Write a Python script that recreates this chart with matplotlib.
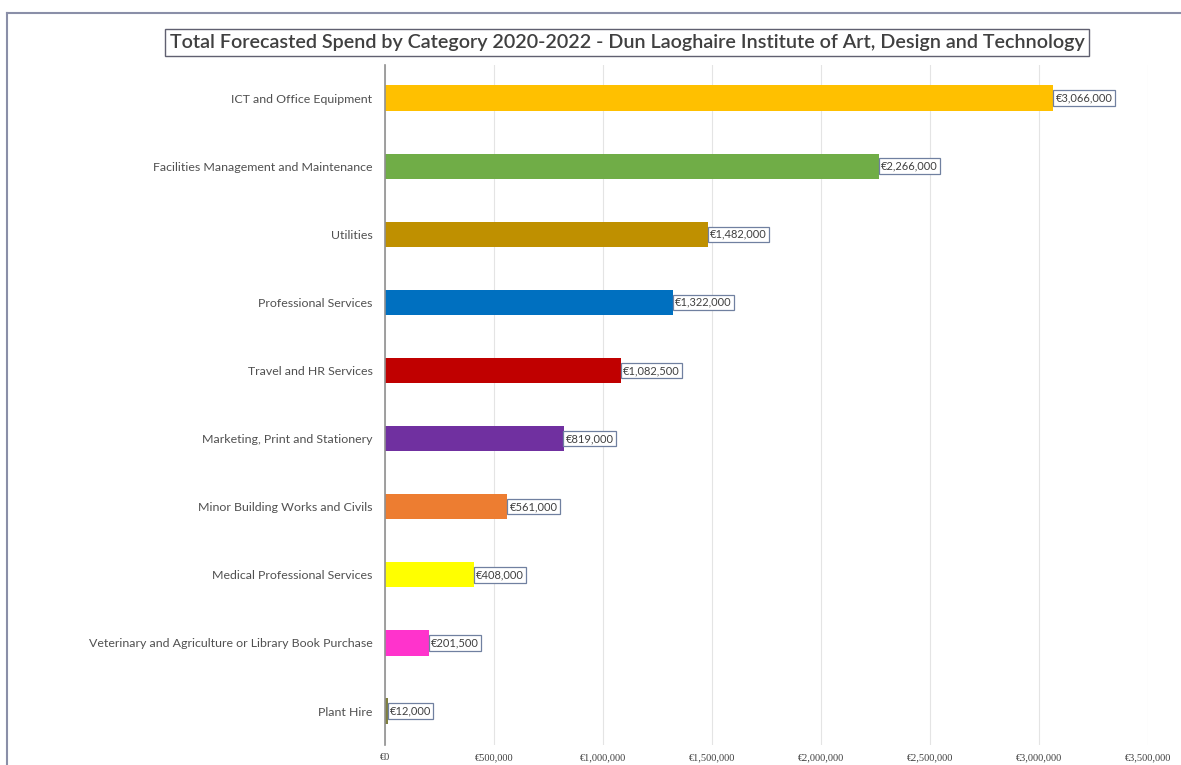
import matplotlib.pyplot as plt
from matplotlib.lines import Line2D
from matplotlib.ticker import FuncFormatter

# Data
categories = ['ICT and Office Equipment', 'Facilities Management and Maintenance', 'Utilities',
              'Professional Services', 'Travel and HR Services', 'Marketing, Print and Stationery',
              'Minor Building Works and Civils', 'Medical Professional Services',
              'Veterinary and Agriculture or Library Book Purchase', 'Plant Hire']
spend = [3066000, 2266000, 1482000, 1322000, 1082500, 819000, 561000, 408000, 201500, 12000]
colors = ['#FFC000', '#70AD47', '#BF9000', '#0070C0', '#C00000', '#7030A0',
          '#ED7D31', '#FFFF00', '#FF33CC', '#7F7F3F']
xticks = [0, 500000, 1000000, 1500000, 2000000, 2500000, 3000000, 3500000]

fig = plt.figure(figsize=(11.81, 7.65), dpi=100)
ax = fig.add_axes([0.326, 0.026, 0.646, 0.889])

ypos = list(range(len(categories)))
ax.barh(ypos, spend, height=0.37, color=colors, zorder=3)
ax.set_yticks(ypos)
ax.set_yticklabels(categories, fontsize=8.9, family='Lato', color='#505050')
ax.set_ylim(9.5, -0.485)
ax.set_xlim(0, 3500000)
ax.set_xticks(xticks)
ax.xaxis.set_major_formatter(FuncFormatter(lambda v, p: '€{:,.0f}'.format(v)))
for lab in ax.get_xticklabels():
    lab.set_fontsize(7.5)
    lab.set_family('Liberation Serif')
    lab.set_color('#404040')
ax.tick_params(axis='y', length=0, pad=9)
ax.tick_params(axis='x', length=0, pad=6)
ax.grid(axis='x', color='#E4E4E4', linewidth=0.8, zorder=0)
for s in ['top', 'right', 'bottom']:
    ax.spines[s].set_visible(False)
ax.spines['left'].set_color('#909090')
ax.spines['left'].set_linewidth(1.2)
ax.spines['left'].set_zorder(4)

# value labels in small boxes
for y, v in zip(ypos, spend):
    ax.text(v + 10000, y, '€{:,.0f}'.format(v), va='center', ha='left', fontsize=8,
            family='Lato', color='#404040', zorder=5,
            bbox=dict(boxstyle='square,pad=0.2', fc='white', ec='#7080A0', lw=0.9))

fig.text(0.531, 0.945, 'Total Forecasted Spend by Category 2020-2022 - Dun Laoghaire Institute of Art, Design and Technology',
         ha='center', va='center', fontsize=14.2, family='Lato', fontweight='semibold', color='#404040',
         bbox=dict(boxstyle='square,pad=0.25', fc='white', ec='#606070', lw=1.0))

# chart frame edges visible in the screenshot
fig.add_artist(Line2D([0.006, 1.0], [0.983, 0.983], color='#8A8FA8', lw=1.5))
fig.add_artist(Line2D([0.006, 0.006], [0.0, 0.983], color='#8A8FA8', lw=1.5))

fig.savefig('out.png', dpi=100)
